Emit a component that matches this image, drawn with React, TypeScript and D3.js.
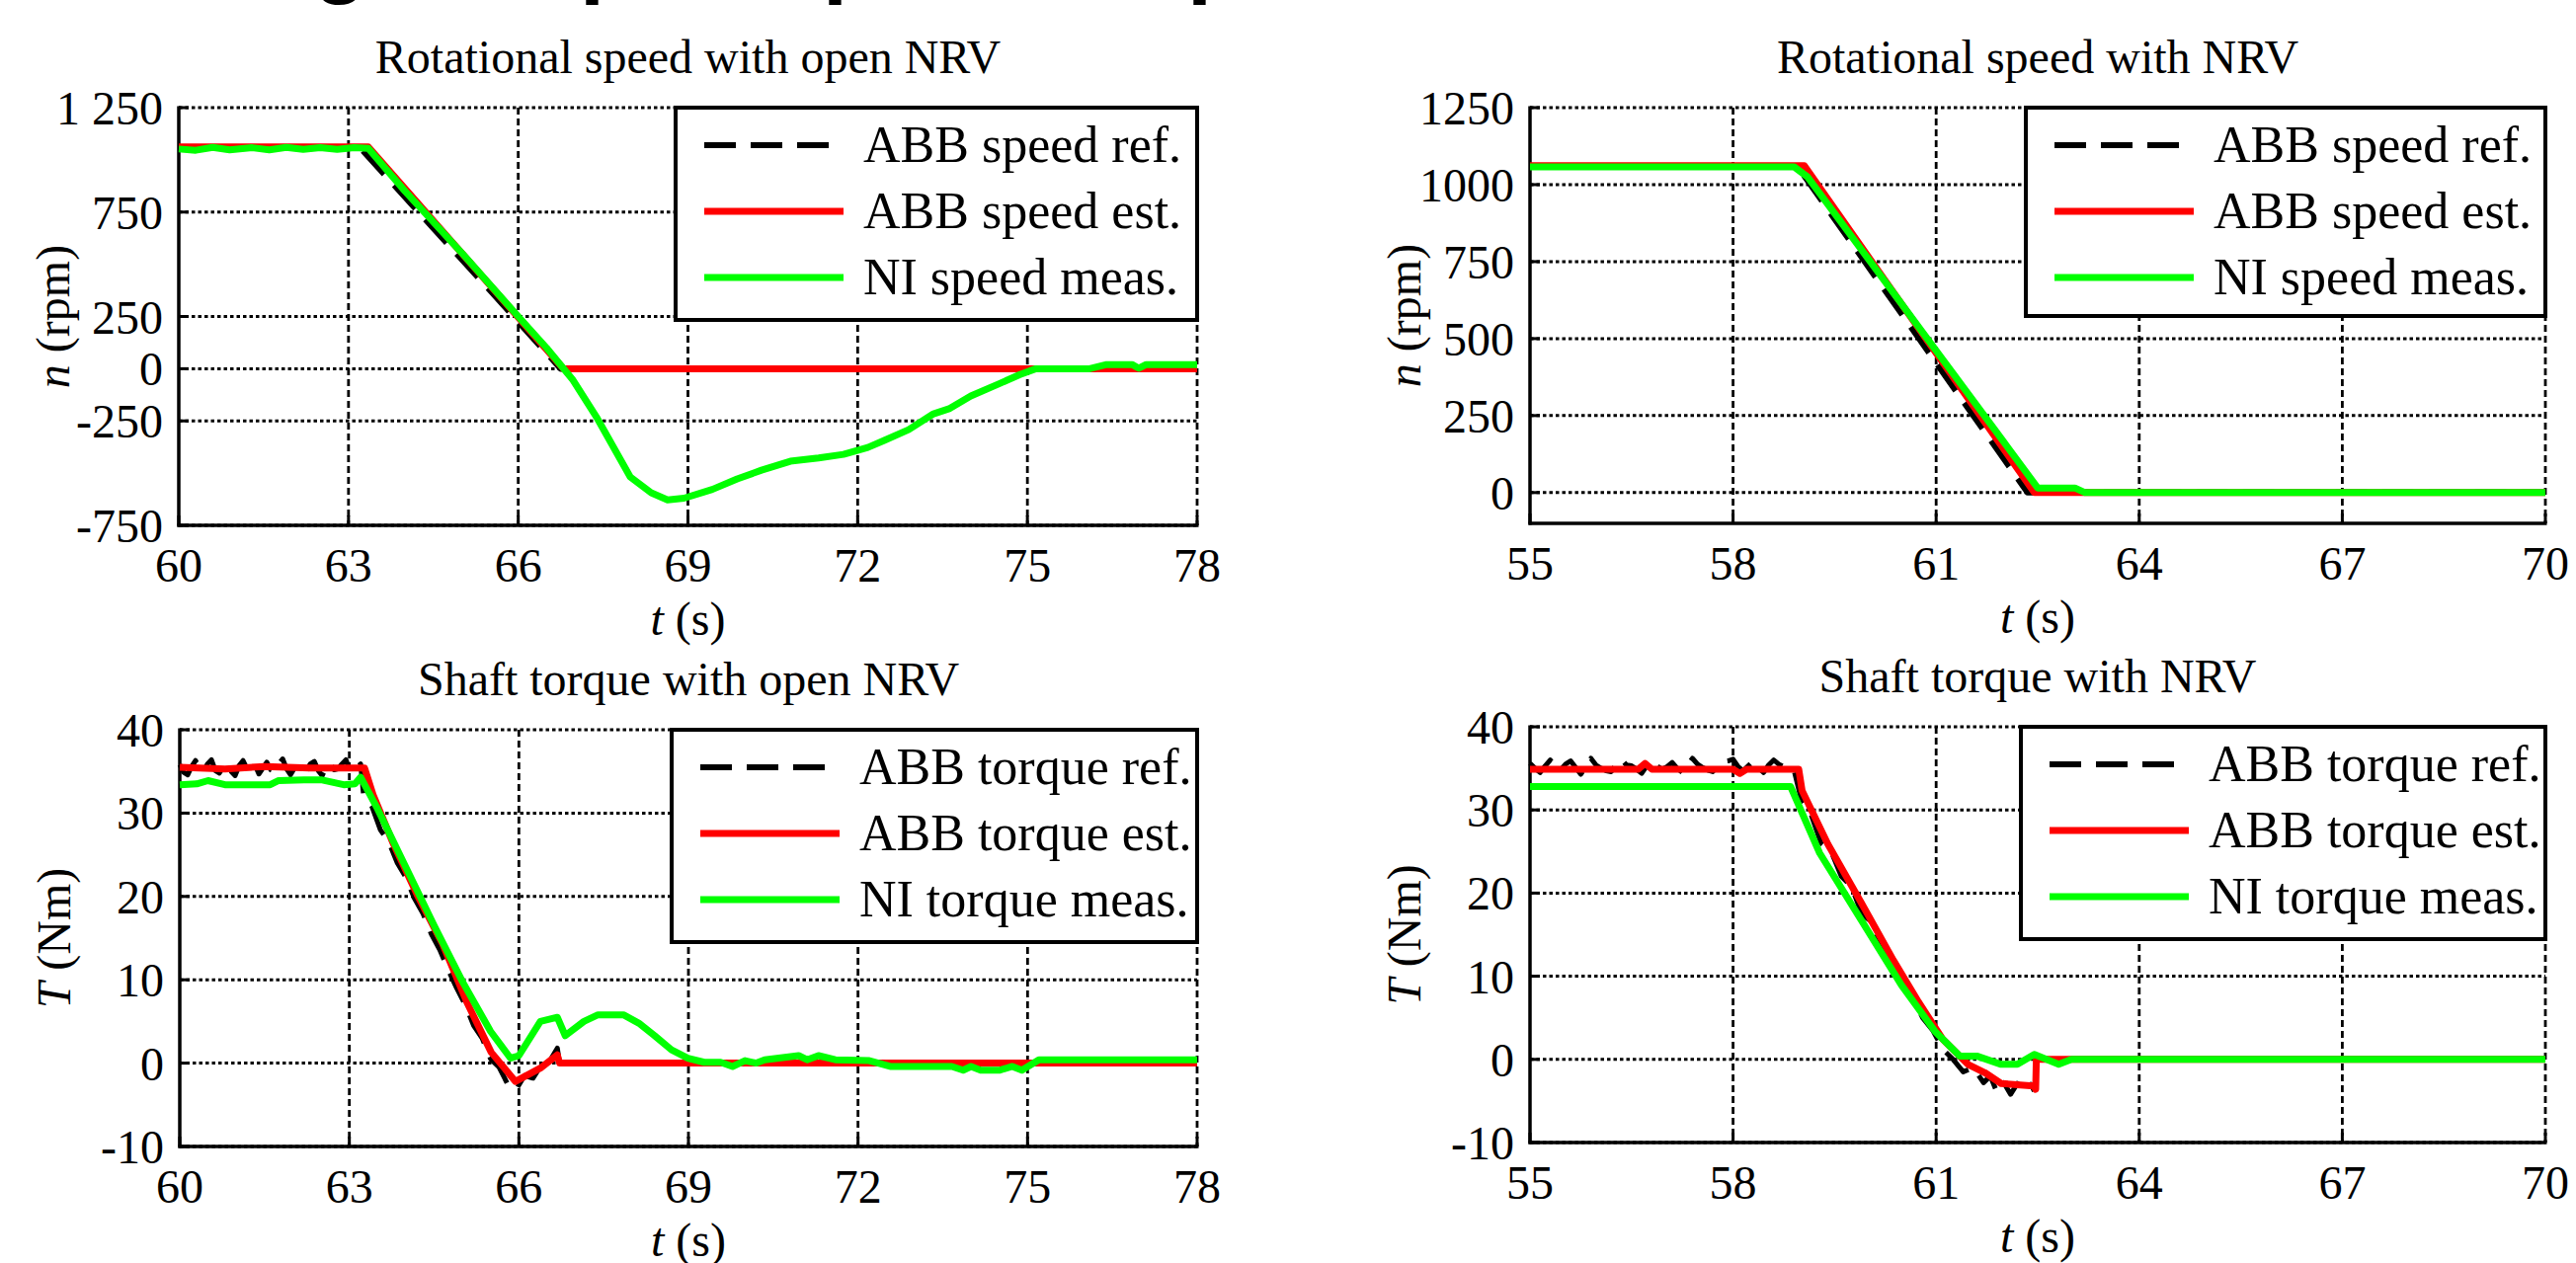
import React from 'react';
import * as d3 from 'd3';

const SERIF = '"Liberation Serif", "Times New Roman", Times, serif';
const SANS = '"Liberation Sans", Arial, sans-serif';

// ---------- Panel 1: Rotational speed with open NRV ----------
const p1XTicks = [60, 63, 66, 69, 72, 75, 78];
const p1YTicks = [-750, -250, 0, 250, 750, 1250];
const p1YTickLabels = ['-750', '-250', '0', '250', '750', '1 250'];
const p1RefT = [60, 63.2, 64.5, 65.5, 66.6, 66.75, 78];
const p1RefV = [1060, 1060, 672, 375, 45, 0, 0];
const p1EstT = [60, 63.35, 66.8, 78];
const p1EstV = [1062, 1062, 0, 0];
const p1MeasT = [60, 60.3, 60.6, 60.9, 61.3, 61.6, 61.9, 62.2, 62.5, 62.8, 63.1, 63.35, 64.0, 65.0, 66.0, 66.5, 66.97, 67.4, 67.98, 68.35, 68.64, 68.93, 69.43, 69.87, 70.3, 70.81, 71.31, 71.75, 72.18, 72.47, 72.9, 73.34, 73.63, 74.0, 74.5, 74.86, 75.15, 76.1, 76.4, 76.85, 76.97, 77.1, 78];
const p1MeasV = [1052, 1046, 1060, 1048, 1058, 1048, 1060, 1050, 1058, 1050, 1058, 1055, 850, 555, 250, 100, -55, -239, -518, -594, -628, -620, -578, -528, -486, -443, -427, -410, -377, -343, -292, -216, -190, -131, -72, -29, 0, 0, 20, 20, 2, 20, 20];

// ---------- Panel 2: Rotational speed with NRV ----------
const p2XTicks = [55, 58, 61, 64, 67, 70];
const p2YTicks = [0, 250, 500, 750, 1000, 1250];
const p2YTickLabels = ['0', '250', '500', '750', '1000', '1250'];
const p2RefT = [55, 58.95, 62.35, 70];
const p2RefV = [1060, 1060, 0, 0];
const p2EstT = [55, 59.05, 62.45, 70];
const p2EstV = [1062, 1062, 0, 0];
const p2MeasT = [55, 58.9, 59.1, 60.0, 61.0, 62.0, 62.5, 62.6, 63.05, 63.2, 70];
const p2MeasV = [1058, 1058, 1025, 758, 461, 164, 15, 15, 15, 0, 0];

// ---------- Panel 3: Shaft torque with open NRV ----------
const p3XTicks = [60, 63, 66, 69, 72, 75, 78];
const p3YTicks = [-10, 0, 10, 20, 30, 40];
const p3YTickLabels = ['-10', '0', '10', '20', '30', '40'];
const p3RefT = [60.0, 60.07, 60.14, 60.21, 60.28, 60.35, 60.42, 60.49, 60.56, 60.63, 60.7, 60.77, 60.84, 60.91, 60.98, 61.05, 61.12, 61.19, 61.26, 61.33, 61.4, 61.47, 61.54, 61.61, 61.68, 61.75, 61.82, 61.89, 61.96, 62.03, 62.1, 62.17, 62.24, 62.31, 62.38, 62.45, 62.52, 62.59, 62.66, 62.73, 62.8, 62.87, 62.94, 63.01, 63.08, 63.15, 63.2, 63.25, 63.4, 63.55, 63.7, 63.85, 64.0, 64.15, 64.3, 64.45, 64.6, 64.75, 64.9, 65.05, 65.2, 65.35, 65.5, 65.65, 65.8, 65.95, 66.1, 66.25, 66.4, 66.55, 66.68, 66.72, 78];
const p3RefV = [35.8, 34.9, 34.6, 35.6, 36.3, 35.2, 35.0, 35.9, 36.4, 35.1, 34.8, 35.5, 35.9, 35.0, 34.5, 35.7, 36.3, 35.3, 35.2, 35.8, 34.7, 35.4, 36.1, 35.2, 35.0, 35.9, 36.5, 35.3, 34.6, 35.4, 35.8, 35.0, 35.1, 35.9, 36.2, 35.1, 34.5, 35.5, 36.0, 35.2, 35.3, 35.9, 36.4, 35.1, 34.8, 35.6, 35.9, 32.3, 30.8, 28.0, 26.5, 24.0, 22.3, 19.8, 18.0, 15.5, 13.6, 11.2, 9.0, 7.0, 4.5, 3.0, 0.5, -0.5, -2.5, -3.2, -1.5, -1.8, -0.2, 0.3, 1.8, 0, 0];
const p3EstT = [60, 60.8, 61.5, 62.3, 63.27, 63.42, 63.78, 64.2, 64.65, 65.08, 65.51, 65.94, 66.38, 66.68, 66.72, 78];
const p3EstV = [35.5, 35.3, 35.6, 35.4, 35.4, 32.2, 26.3, 20.2, 14.3, 7.3, 1.3, -2.2, -0.6, 1.0, 0, 0];
const p3MeasT = [60, 60.3, 60.5, 60.8, 61.6, 61.75, 62.2, 62.5, 62.9, 63.1, 63.2, 63.5, 64.0, 64.5, 65.0, 65.5, 65.85, 66.0, 66.38, 66.68, 66.82, 67.15, 67.4, 67.85, 68.12, 68.4, 68.7, 68.99, 69.28, 69.57, 69.78, 70.0, 70.2, 70.35, 70.95, 71.1, 71.3, 71.6, 72.2, 72.57, 73.66, 73.86, 74.0, 74.17, 74.5, 74.73, 74.9, 75.2, 78];
const p3MeasV = [33.4, 33.5, 33.9, 33.4, 33.4, 33.9, 34.0, 34.0, 33.4, 33.5, 34.3, 30.5, 23.5, 16.5, 9.8, 3.8, 0.6, 0.9, 5.0, 5.5, 3.3, 5.0, 5.8, 5.8, 4.8, 3.3, 1.6, 0.6, 0.1, 0.1, -0.4, 0.3, 0.0, 0.4, 0.9, 0.4, 0.9, 0.4, 0.3, -0.4, -0.4, -0.85, -0.4, -0.85, -0.85, -0.4, -0.85, 0.4, 0.4];

// ---------- Panel 4: Shaft torque with NRV ----------
const p4XTicks = [55, 58, 61, 64, 67, 70];
const p4YTicks = [-10, 0, 10, 20, 30, 40];
const p4YTickLabels = ['-10', '0', '10', '20', '30', '40'];
const p4RefT = [55.0, 55.075, 55.15, 55.225, 55.3, 55.375, 55.45, 55.525, 55.6, 55.675, 55.75, 55.825, 55.9, 55.975, 56.05, 56.125, 56.2, 56.275, 56.35, 56.425, 56.5, 56.575, 56.65, 56.725, 56.8, 56.875, 56.95, 57.025, 57.1, 57.175, 57.25, 57.325, 57.4, 57.475, 57.55, 57.625, 57.7, 57.775, 57.85, 57.925, 58.0, 58.075, 58.15, 58.225, 58.3, 58.375, 58.45, 58.525, 58.6, 58.675, 58.75, 58.825, 58.9, 59.0, 59.15, 59.3, 59.45, 59.6, 59.75, 59.9, 60.05, 60.2, 60.35, 60.5, 60.65, 60.8, 60.95, 61.1, 61.25, 61.4, 61.55, 61.7, 61.8, 61.9, 62.0, 62.1, 62.2, 62.3, 62.4, 62.45];
const p4RefV = [35.6, 35.0, 34.5, 35.3, 36.0, 35.2, 34.8, 35.5, 35.9, 35.1, 34.3, 35.2, 36.2, 35.4, 35.0, 34.7, 34.6, 35.5, 36.1, 35.4, 35.3, 34.9, 34.4, 35.3, 36.0, 35.3, 34.9, 35.2, 35.7, 35.0, 34.5, 35.4, 36.2, 35.5, 35.1, 34.8, 34.6, 35.3, 35.8, 35.9, 36.1, 35.2, 34.7, 35.3, 35.9, 35.1, 34.5, 35.4, 36.0, 35.5, 35.2, 35.0, 34.8, 31.5, 29.5, 26.0, 25.0, 22.0, 20.8, 17.5, 16.5, 13.0, 12.0, 9.0, 7.5, 5.0, 3.5, 1.2, 0.0, -1.5, -1.0, -2.8, -2.0, -4.0, -2.8, -4.2, -2.9, -4.0, -3.0, -3.8];
const p4EstT = [55, 56.6, 56.7, 56.8, 58.0, 58.1, 58.2, 58.97, 59.02, 59.4, 59.89, 60.37, 60.74, 61.1, 61.47, 61.72, 61.96, 62.44, 62.47, 62.48, 70];
const p4EstV = [34.9, 34.9, 35.6, 34.9, 34.9, 34.4, 34.9, 34.9, 32.3, 25.9, 18.9, 11.9, 6.9, 2.4, -0.6, -1.6, -2.9, -3.2, -3.6, 0, 0];
const p4MeasT = [55, 58.85, 59.28, 59.89, 60.49, 60.98, 61.35, 61.6, 61.96, 62.2, 62.45, 62.81, 63.0, 70];
const p4MeasV = [32.8, 32.8, 24.8, 16.8, 8.9, 3.4, 0.4, 0.4, -0.6, -0.6, 0.6, -0.6, 0, 0];

const speedLegend = ['ABB speed ref.', 'ABB speed est.', 'NI speed meas.'];
const torqueLegend = ['ABB torque ref.', 'ABB torque est.', 'NI torque meas.'];

const BLACK = '#000000';
const RED = '#ff0000';
const GREEN = '#00ff00';
const DASH = '32,15';

type Box = { left: number; right: number; top: number; bottom: number };
type Series = { t: number[]; v: number[]; color: string; width: number; dash?: string };

function Panel(props: {
  box: Box;
  xDomain: [number, number];
  yDomain: [number, number];
  xTicks: number[];
  yTicks: number[];
  yTickLabels: string[];
  title: string;
  yVar: string;
  yUnit: string;
  series: Series[];
  legend: string[];
  legendW: number;
  legendH: number;
}) {
  const { box, xDomain, yDomain, xTicks, yTicks, yTickLabels, title, yVar, yUnit, series, legend, legendW, legendH } = props;
  const x = d3.scaleLinear().domain(xDomain).range([box.left, box.right]);
  const y = d3.scaleLinear().domain(yDomain).range([box.bottom, box.top]);
  const line = d3
    .line<[number, number]>()
    .x((d) => x(d[0]))
    .y((d) => y(d[1]));
  const cx = (box.left + box.right) / 2;
  const cy = (box.top + box.bottom) / 2;
  const lx = box.right - legendW;
  const ly = box.top;
  return (
    <g>
      <text x={cx} y={box.top - 35} textAnchor="middle" fontFamily={SERIF} fontSize={48}>
        {title}
      </text>
      {/* grid */}
      {yTicks.map((t) => (
        <line key={'gy' + t} x1={box.left} x2={box.right} y1={y(t)} y2={y(t)} stroke="#000" strokeWidth={3} strokeDasharray="3.5,3" />
      ))}
      {xTicks.slice(1).map((t) => (
        <line key={'gx' + t} x1={x(t)} x2={x(t)} y1={box.top} y2={box.bottom} stroke="#000" strokeWidth={2.8} strokeDasharray="7,4" />
      ))}
      {/* axes */}
      <line x1={box.left} x2={box.left} y1={box.top - 1.5} y2={box.bottom + 1.5} stroke="#000" strokeWidth={3.5} />
      <line x1={box.left - 1.5} x2={box.right + 1.5} y1={box.bottom} y2={box.bottom} stroke="#000" strokeWidth={3.5} />
      {yTicks.map((t) => (
        <line key={'ty' + t} x1={box.left} x2={box.left + 10} y1={y(t)} y2={y(t)} stroke="#000" strokeWidth={3} />
      ))}
      {xTicks.map((t) => (
        <line key={'tx' + t} x1={x(t)} x2={x(t)} y1={box.bottom} y2={box.bottom - 10} stroke="#000" strokeWidth={3} />
      ))}
      {yTicks.map((t, i) => (
        <text key={'ly' + t} x={box.left - 16} y={y(t) + 17} textAnchor="end" fontFamily={SERIF} fontSize={48}>
          {yTickLabels[i]}
        </text>
      ))}
      {xTicks.map((t) => (
        <text key={'lx' + t} x={x(t)} y={box.bottom + 57} textAnchor="middle" fontFamily={SERIF} fontSize={48}>
          {t}
        </text>
      ))}
      <text x={cx} y={box.bottom + 111} textAnchor="middle" fontFamily={SERIF} fontSize={48}>
        <tspan fontStyle="italic">t</tspan>
        {' (s)'}
      </text>
      <text transform={`translate(${box.left - 111},${cy}) rotate(-90)`} textAnchor="middle" fontFamily={SERIF} fontSize={48}>
        <tspan fontStyle="italic">{yVar}</tspan>
        {'\u00a0(' + yUnit + ')'}
      </text>
      {/* data */}
      {series.map((s, i) => (
        <path
          key={'s' + i}
          d={line(s.t.map((t, j) => [t, s.v[j]] as [number, number])) || ''}
          fill="none"
          stroke={s.color}
          strokeWidth={s.width}
          strokeDasharray={s.dash}
          strokeLinejoin="round"
        />
      ))}
      {/* legend */}
      <rect x={lx} y={ly} width={legendW} height={legendH} fill="#fff" stroke="#000" strokeWidth={4} />
      {legend.map((lab, i) => {
        const s = series[i];
        const ey = ly + 38 + i * 67;
        return (
          <g key={'lg' + i}>
            <line x1={lx + 29} x2={lx + 170} y1={ey} y2={ey} stroke={s.color} strokeWidth={i === 0 ? 6 : 7} strokeDasharray={s.dash} />
            <text x={lx + 190} y={ey + 17} fontFamily={SERIF} fontSize={52}>
              {lab}
            </text>
          </g>
        );
      })}
    </g>
  );
}

export default function App() {
  return (
    <svg width={2608} height={1279} style={{ position: 'absolute', left: 0, top: 0, display: 'block', background: '#fff' }}>
      <rect x={0} y={0} width={2608} height={1279} fill="#fff" />
      {/* cut-off slide heading (only descenders visible) */}
      <g fontFamily={SANS} fontWeight="bold" fontSize={90} fill="#000">
        <text x={372} y={-14} textAnchor="end">Testing</text>
        <text x={402} y={-14}>setup</text>
        <text x={698} y={-14}>stop</text>
        <text x={922} y={-14}>start-up</text>
      </g>
      <Panel
        box={{ left: 181, right: 1212, top: 109, bottom: 532 }}
        xDomain={[60, 78]}
        yDomain={[-750, 1250]}
        xTicks={p1XTicks}
        yTicks={p1YTicks}
        yTickLabels={p1YTickLabels}
        title="Rotational speed with open NRV"
        yVar="n"
        yUnit="rpm"
        series={[
          { t: p1RefT, v: p1RefV, color: BLACK, width: 6, dash: DASH },
          { t: p1EstT, v: p1EstV, color: RED, width: 7 },
          { t: p1MeasT, v: p1MeasV, color: GREEN, width: 7 },
        ]}
        legend={speedLegend}
        legendW={528}
        legendH={215}
      />
      <Panel
        box={{ left: 1549, right: 2577, top: 109, bottom: 530 }}
        xDomain={[55, 70]}
        yDomain={[-100, 1250]}
        xTicks={p2XTicks}
        yTicks={p2YTicks}
        yTickLabels={p2YTickLabels}
        title="Rotational speed with NRV"
        yVar="n"
        yUnit="rpm"
        series={[
          { t: p2RefT, v: p2RefV, color: BLACK, width: 6, dash: DASH },
          { t: p2EstT, v: p2EstV, color: RED, width: 7 },
          { t: p2MeasT, v: p2MeasV, color: GREEN, width: 7 },
        ]}
        legend={speedLegend}
        legendW={526}
        legendH={211}
      />
      <Panel
        box={{ left: 182, right: 1212, top: 739, bottom: 1161 }}
        xDomain={[60, 78]}
        yDomain={[-10, 40]}
        xTicks={p3XTicks}
        yTicks={p3YTicks}
        yTickLabels={p3YTickLabels}
        title="Shaft torque with open NRV"
        yVar="T"
        yUnit="Nm"
        series={[
          { t: p3RefT, v: p3RefV, color: BLACK, width: 5, dash: DASH },
          { t: p3EstT, v: p3EstV, color: RED, width: 7 },
          { t: p3MeasT, v: p3MeasV, color: GREEN, width: 7 },
        ]}
        legend={torqueLegend}
        legendW={532}
        legendH={215}
      />
      <Panel
        box={{ left: 1549, right: 2577, top: 736, bottom: 1157 }}
        xDomain={[55, 70]}
        yDomain={[-10, 40]}
        xTicks={p4XTicks}
        yTicks={p4YTicks}
        yTickLabels={p4YTickLabels}
        title="Shaft torque with NRV"
        yVar="T"
        yUnit="Nm"
        series={[
          { t: p4RefT, v: p4RefV, color: BLACK, width: 5, dash: DASH },
          { t: p4EstT, v: p4EstV, color: RED, width: 7 },
          { t: p4MeasT, v: p4MeasV, color: GREEN, width: 7 },
        ]}
        legend={torqueLegend}
        legendW={531}
        legendH={215}
      />
    </svg>
  );
}
